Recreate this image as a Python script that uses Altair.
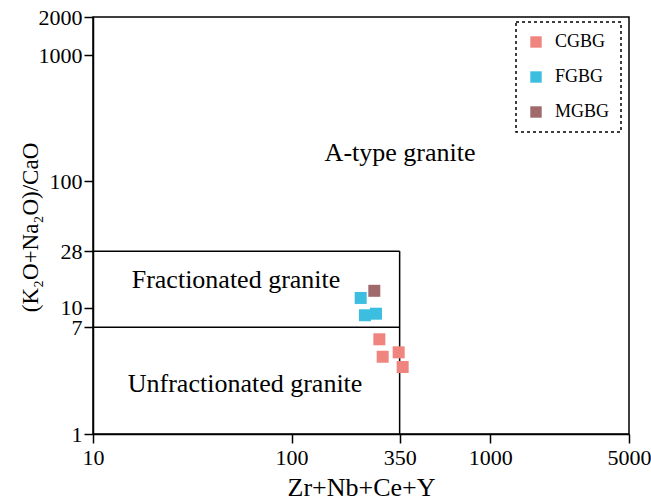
import altair as alt
import pandas as pd

# Sample measurements: Zr+Nb+Ce+Y (ppm) vs (K2O+Na2O)/CaO
groups = ["CGBG", "CGBG", "CGBG", "CGBG", "FGBG", "FGBG", "FGBG", "MGBG"]
zr_nb_ce_y = [276.6, 287.5, 346.0, 362.5, 222.8, 234.2, 266.0, 260.9]
alk_cao = [5.62, 4.09, 4.43, 3.39, 11.94, 8.71, 8.96, 13.6]

group_names = ["CGBG", "FGBG", "MGBG"]
group_colors = ["#F0857F", "#3BBEE0", "#A06A6C"]

x_ticks = [10, 100, 350, 1000, 5000]
y_ticks = [1, 7, 10, 28, 100, 1000, 2000]

# Field boundaries of the discrimination diagram
bound_x1 = [10, 10, 350]
bound_x2 = [350, 350, 350]
bound_y1 = [28, 7, 1]
bound_y2 = [28, 7, 28]

# Field names and where they sit in data space
field_labels = ["A-type granite", "Fractionated granite", "Unfractionated granite"]
field_x = [351.6, 52.5, 58.3]
field_y = [168, 16.6, 2.49]

FONT = "Liberation Serif"
W, H = 536, 417

samples = pd.DataFrame({"group": groups, "x": zr_nb_ce_y, "y": alk_cao})
bounds = pd.DataFrame({"x1": bound_x1, "x2": bound_x2, "y1": bound_y1, "y2": bound_y2})
fields = pd.DataFrame({"label": field_labels, "x": field_x, "y": field_y})

x_scale = alt.Scale(type="log", domain=[10, 5000], nice=False)
y_scale = alt.Scale(type="log", domain=[1, 2000], nice=False)

x_axis = alt.Axis(values=x_ticks, title="Zr+Nb+Ce+Y", format="d",
                  labelFlush=False, labelOverlap=False, labelPadding=4,
                  titleX=W / 2, titleY=53, titleAlign="center",
                  titleBaseline="middle")
y_axis = alt.Axis(values=y_ticks, title="(K₂O+Na₂O)/CaO", format="d",
                  labelFlush=False, labelOverlap=False, labelPadding=2,
                  titleX=-63, titleY=210, titleAlign="center",
                  titleBaseline="middle", titleFontSize=23)

boundaries = alt.Chart(bounds).mark_rule(color="black", strokeWidth=1.5).encode(
    x=alt.X("x1:Q", scale=x_scale, axis=x_axis),
    x2="x2:Q",
    y=alt.Y("y1:Q", scale=y_scale, axis=y_axis),
    y2="y2:Q",
)

names = alt.Chart(fields).mark_text(font=FONT, fontSize=26, color="black").encode(
    x=alt.X("x:Q", scale=x_scale, axis=x_axis),
    y=alt.Y("y:Q", scale=y_scale, axis=y_axis),
    text="label:N",
)

points = alt.Chart(samples).mark_square(size=144, opacity=1).encode(
    x=alt.X("x:Q", scale=x_scale, axis=x_axis),
    y=alt.Y("y:Q", scale=y_scale, axis=y_axis),
    color=alt.Color(
        "group:N",
        scale=alt.Scale(domain=group_names, range=group_colors),
        legend=alt.Legend(
            title=None, orient="none", legendX=423, legendY=5,
            symbolType="square", symbolSize=130, symbolOpacity=1,
            symbolStrokeWidth=0, labelFont=FONT, labelFontSize=18,
            labelColor="black", labelOffset=10, rowPadding=17, padding=11,
        ),
    ),
)

chart = (
    alt.layer(boundaries, names, points)
    .properties(
        width=W, height=H, autosize="none",
        padding={"left": 93, "top": 17, "right": 22, "bottom": 66},
        background="white",
    )
    .configure_view(stroke="black", strokeWidth=1.5)
    .configure_axis(
        labelFont=FONT, labelFontSize=22, labelColor="black",
        titleFont=FONT, titleFontSize=26, titleFontWeight="normal",
        titleColor="black", tickColor="black", tickSize=9, tickWidth=1.5,
        domainColor="black", domainWidth=1.5, grid=False,
    )
    .configure_legend(strokeColor="black", strokeDash=[3, 3], strokeWidth=1.5)
)

chart.save("out.html", embed_options={"renderer": "svg", "actions": False})
